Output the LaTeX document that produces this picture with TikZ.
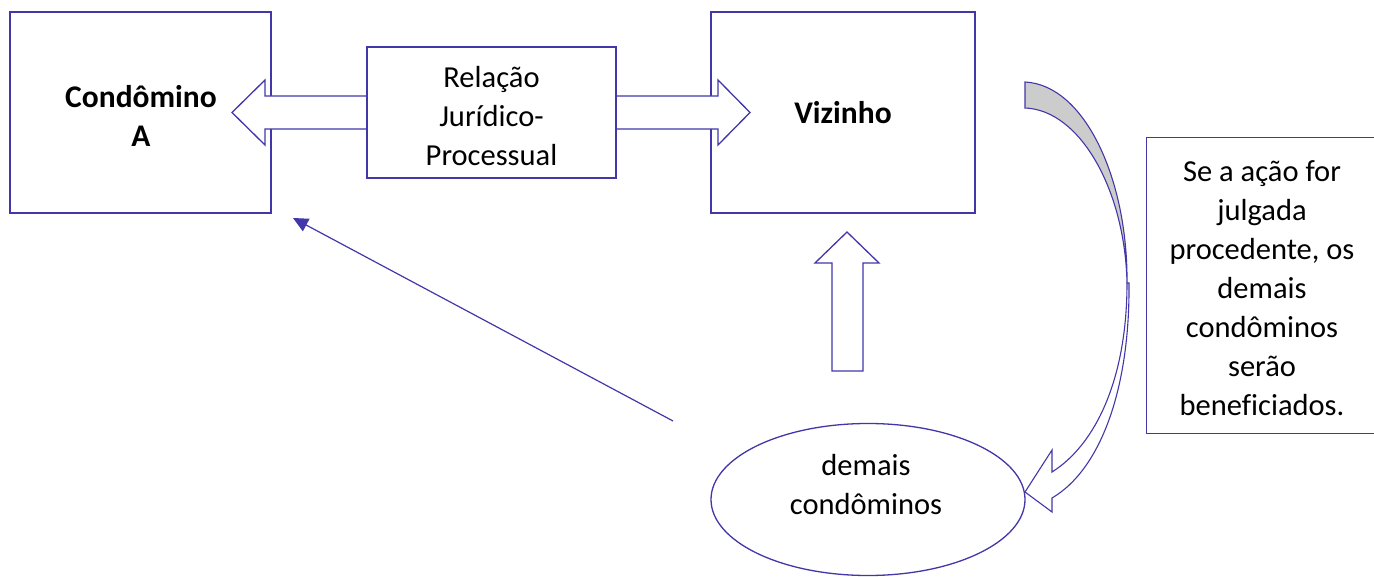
\documentclass[tikz,border=0pt]{standalone}
\usepackage{fontspec}
\setmainfont[Ligatures=NoCommon]{Carlito}
\usetikzlibrary{arrows.meta,shapes.geometric}
\definecolor{lc}{RGB}{66,54,168}
\definecolor{shade}{RGB}{204,204,204}
\tikzset{
  ln/.style={draw=lc, line width=1.3pt, line join=miter},
  box/.style={ln, fill=white, rectangle, inner sep=0pt},
  txt/.style={font=\fontsize{30.5}{39}\selectfont, align=center, inner sep=0pt},
  txtb/.style={font=\fontsize{31.5}{39}\selectfont\bfseries, align=center, inner sep=0pt}
}
\begin{document}
\begin{tikzpicture}[x=1pt,y=-1pt]
\useasboundingbox (0,0) rectangle (1374,577);
% main boxes
\node[box, minimum width=261pt, minimum height=201pt] (A) at (140.5,112.5) {};
\node[box, minimum width=264pt, minimum height=201pt] (V) at (843,112.5) {};
% double block arrow
\draw[ln, fill=white] (232,112.5) -- (265,80) -- (265,96) -- (718,96) -- (718,80)
  -- (750,112.5) -- (718,145) -- (718,129) -- (265,129) -- (265,145) -- cycle;
% middle box
\node[box, minimum width=249pt, minimum height=131pt] (R) at (491.5,112.5) {};
\node[txt] (Rt) at (491.5,116) {Relação\\Jurídico-\\Processual};
\node[txtb] (At) at (141,116) {Condômino\\A};
\node[txtb] (Vt) at (843,113) {Vizinho};
% ellipse
\node[ln, fill=white, ellipse, minimum width=314pt, minimum height=152pt, inner sep=0pt] (E) at (868,499.5) {};
\node[txt] (Et) at (866,485) {demais\\condôminos};
% up block arrow
\draw[ln, fill=white] (847,232) -- (879,263) -- (863,263) -- (863,371) -- (832,371)
  -- (832,263) -- (815,263) -- cycle;
% thin arrow
\coordinate (s) at (673,421);
\coordinate (e) at (293,218);
\draw[ln, line width=1.2pt, -{Triangle[length=15pt,width=14pt]}] (s) -- (e);
% curved arrow
\draw[ln, line width=1.1pt, fill=shade] (1025,82) -- (1025,108)
  .. controls (1080,110) and (1125,190) .. (1127,283)
  .. controls (1128,180) and (1085,85) .. (1025,82) -- cycle;
\draw[ln, line width=1.1pt, fill=white] (1127,283)
  .. controls (1127,380) and (1095,445) .. (1052,472)
  -- (1052,450) -- (1025,492) -- (1052,512) -- (1052,498)
  .. controls (1100,470) and (1130,390) .. (1129,283) -- cycle;
% right text box
\node[box, anchor=north west, minimum width=240pt, minimum height=296pt] (T) at (1146,137) {};
\node[txt] (Tt) at (1262,288) {Se a ação for\\julgada\\procedente, os\\demais\\condôminos\\serão\\beneficiados.};
\end{tikzpicture}
\end{document}
